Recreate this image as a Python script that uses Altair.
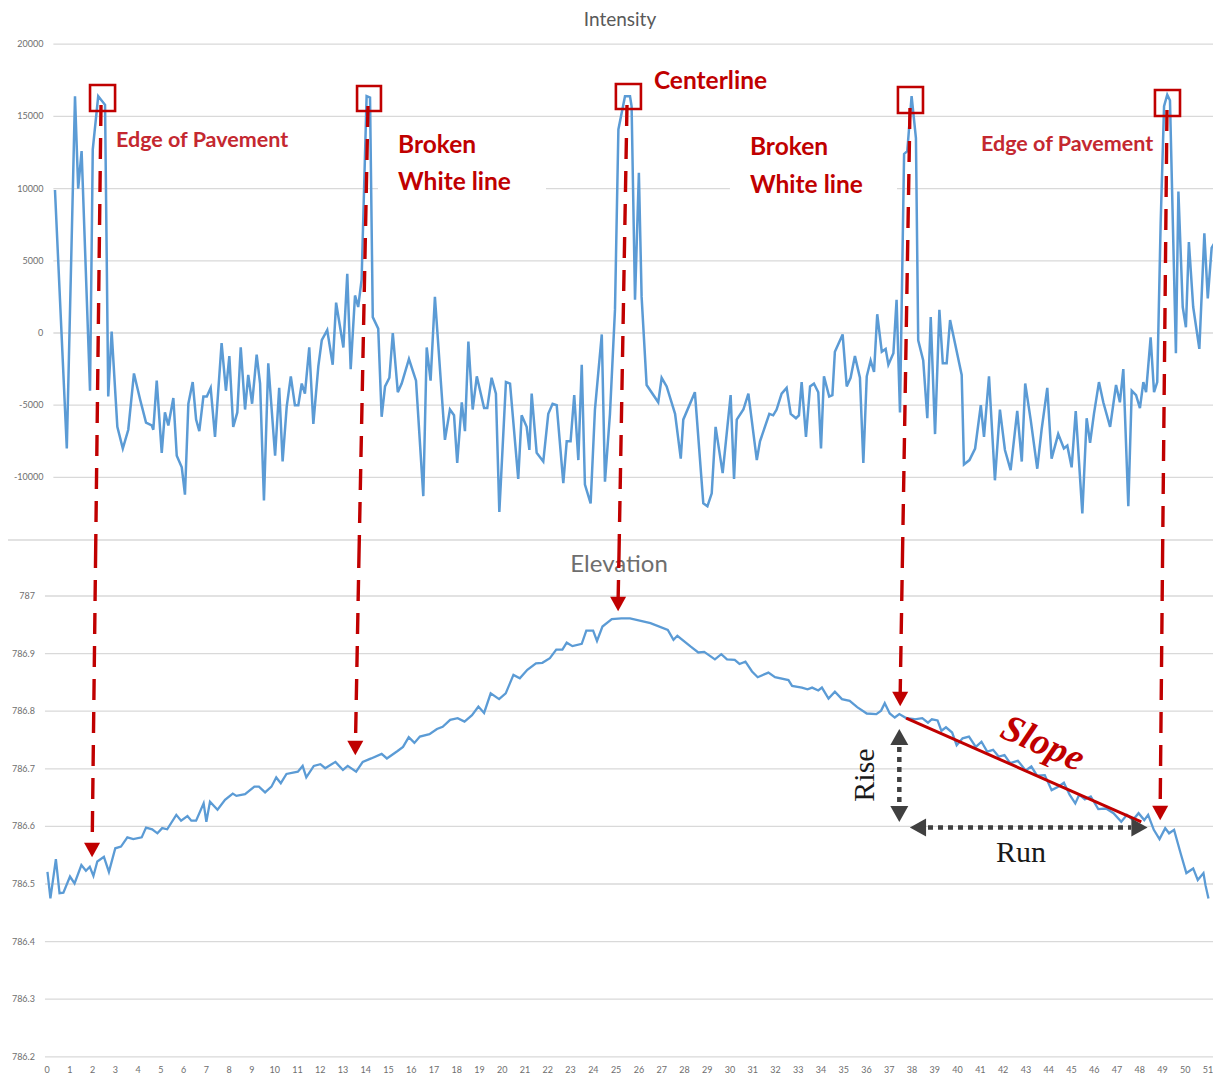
import altair as alt
import pandas as pd

# ---------------- data ----------------
INT_DIST = [
    0.35, 0.87, 1.23, 1.37, 1.52, 1.89, 2.01, 2.25, 2.55, 2.69,
    2.84, 3.09, 3.33, 3.57, 3.82, 4.09, 4.35, 4.60, 4.67, 4.82,
    5.04, 5.18, 5.33, 5.55, 5.70, 5.92, 6.06, 6.21, 6.40, 6.55,
    6.69, 6.87, 7.02, 7.19, 7.38, 7.67, 7.86, 8.01, 8.18, 8.36,
    8.51, 8.70, 8.84, 9.01, 9.21, 9.36, 9.53, 9.72, 10.02, 10.20,
    10.35, 10.53, 10.71, 10.89, 11.04, 11.19, 11.33, 11.52, 11.70, 11.92,
    12.07, 12.31, 12.55, 12.70, 13.02, 13.19, 13.34, 13.53, 13.67, 13.82,
    14.04, 14.19, 14.31, 14.55, 14.70, 14.85, 15.04, 15.19, 15.41, 15.58,
    15.90, 16.21, 16.53, 16.68, 16.85, 17.04, 17.48, 17.70, 17.88, 18.02,
    18.22, 18.36, 18.51, 18.70, 18.88, 19.20, 19.34, 19.53, 19.72, 19.87,
    20.16, 20.34, 20.70, 20.85, 21.07, 21.19, 21.29, 21.51, 21.80, 22.02,
    22.21, 22.39, 22.68, 22.83, 23.00, 23.16, 23.34, 23.49, 23.63, 23.88,
    24.07, 24.37, 24.51, 24.73, 24.95, 25.10, 25.39, 25.61, 25.68, 25.83,
    26.00, 26.12, 26.34, 26.85, 27.00, 27.22, 27.59, 27.84, 27.95, 28.46,
    28.83, 29.01, 29.20, 29.37, 29.68, 30.03, 30.18, 30.30, 30.59, 30.81,
    31.18, 31.32, 31.73, 31.90, 32.05, 32.27, 32.49, 32.67, 32.90, 33.03,
    33.15, 33.34, 33.52, 33.69, 33.88, 34.00, 34.13, 34.36, 34.50, 34.61,
    34.95, 35.13, 35.30, 35.49, 35.71, 35.86, 36.01, 36.18, 36.33, 36.47,
    36.67, 36.84, 36.96, 37.18, 37.32, 37.47, 37.65, 37.79, 37.98, 38.17,
    38.27, 38.49, 38.67, 38.82, 39.01, 39.20, 39.35, 39.52, 39.67, 40.18,
    40.28, 40.52, 40.77, 41.02, 41.16, 41.38, 41.64, 41.86, 42.08, 42.33,
    42.62, 42.82, 42.97, 43.21, 43.50, 43.69, 43.94, 44.13, 44.42, 44.67,
    44.82, 45.01, 45.19, 45.48, 45.67, 45.82, 45.99, 46.21, 46.40, 46.70,
    46.96, 47.13, 47.28, 47.50, 47.65, 47.84, 48.01, 48.16, 48.28, 48.48,
    48.63, 48.77, 48.92, 49.07, 49.21, 49.33, 49.48, 49.59, 49.70, 49.89,
    50.03, 50.16, 50.35, 50.62, 50.84, 50.99, 51.16, 51.35,
]
INT_VAL = [
    9900, -8000, 16400, 10000, 12600, -4000, 12700, 16400, 15800, -4400,
    100, -6500, -8000, -6700, -2800, -4600, -6200, -6400, -6700, -3300,
    -8300, -5500, -6400, -4500, -8500, -9300, -11200, -4900, -3400, -6000,
    -6800, -4400, -4400, -3800, -7200, -700, -4000, -1600, -6500, -5500,
    -1000, -5300, -2900, -4900, -1500, -3500, -11600, -2100, -8500, -3800,
    -8900, -5100, -3000, -5000, -5000, -3500, -4200, -1000, -6300, -2300,
    -500, 200, -2200, 2100, -1000, 4100, -2500, 2600, 1800, 3700,
    16400, 16300, 1100, 300, -5800, -3700, -3100, 0, -4100, -3500,
    -1800, -3300, -11300, -1000, -3300, 2500, -7400, -5300, -5700, -9000,
    -4800, -6800, -600, -5300, -3000, -5200, -5200, -3100, -4200, -12400,
    -3400, -3500, -10100, -5700, -6500, -8100, -4200, -8300, -8900, -5600,
    -4900, -5000, -10400, -7500, -7500, -4300, -8800, -2200, -10500, -11800,
    -5300, -100, -10300, -5600, 1600, 14100, 16400, 16400, 15700, 2300,
    11100, 2500, -3600, -4800, -3100, -3700, -5600, -8700, -6000, -4100,
    -11800, -12000, -11100, -6500, -9700, -4300, -10100, -6000, -5300, -4200,
    -8800, -7500, -5600, -5700, -5300, -4200, -3800, -5600, -5900, -5700,
    -3400, -7200, -3700, -3500, -4100, -8000, -3000, -4400, -4300, -1300,
    -100, -3700, -3100, -1600, -3100, -9000, -3000, -1900, -2700, 1300,
    -1300, -1100, -2200, -1400, 2300, -5500, 12400, 12600, 16400, 13500,
    -500, -1900, -5900, 1100, -7000, 1600, -2100, -2100, 900, -2900,
    -9100, -8800, -8000, -5000, -7200, -3000, -10200, -5300, -8100, -9500,
    -5400, -8900, -3500, -6000, -9400, -6700, -3800, -8700, -7000, -8000,
    -7800, -9300, -5400, -12500, -5900, -7600, -5600, -3400, -4800, -6500,
    -3600, -4800, -2500, -12000, -4000, -4300, -5200, -3400, -4100, -300,
    -4100, -3400, 7600, 15700, 16500, 16100, 6000, -1400, 9800, 1800,
    400, 6300, 1800, -1100, 6900, 2400, 5900, 6400,
]
ELEV_DIST = [
    0.02, 0.15, 0.39, 0.55, 0.72, 1.01, 1.21, 1.51, 1.71, 1.88,
    2.04, 2.21, 2.50, 2.72, 3.00, 3.25, 3.53, 3.79, 4.16, 4.35,
    4.62, 4.85, 5.06, 5.28, 5.68, 5.89, 6.17, 6.34, 6.55, 6.88,
    7.00, 7.16, 7.49, 7.82, 8.16, 8.32, 8.70, 9.11, 9.31, 9.58,
    9.86, 10.07, 10.27, 10.52, 11.02, 11.23, 11.39, 11.72, 12.01, 12.22,
    12.67, 13.00, 13.21, 13.58, 13.87, 14.24, 14.70, 14.93, 15.40, 15.64,
    15.89, 16.14, 16.38, 16.80, 17.13, 17.38, 17.71, 18.04, 18.34, 18.67,
    18.95, 19.20, 19.49, 19.86, 20.15, 20.49, 20.77, 21.10, 21.48, 21.76,
    22.09, 22.37, 22.64, 22.83, 23.08, 23.49, 23.69, 23.99, 24.16, 24.40,
    24.81, 25.23, 25.61, 26.51, 27.27, 27.52, 27.69, 28.28, 28.61, 28.87,
    29.34, 29.62, 29.87, 30.21, 30.42, 30.68, 30.97, 31.22, 31.69, 31.98,
    32.57, 32.73, 33.16, 33.41, 33.61, 33.88, 34.04, 34.33, 34.61, 34.92,
    35.26, 35.59, 36.01, 36.43, 36.64, 36.80, 37.02, 37.24, 37.44, 37.74,
    38.11, 38.45, 38.70, 38.87, 39.12, 39.29, 39.49, 39.76, 39.96, 40.22,
    40.50, 40.80, 41.05, 41.30, 41.56, 41.81, 42.06, 42.31, 42.65, 42.99,
    43.24, 43.49, 43.83, 44.13, 44.42, 44.67, 44.92, 45.17, 45.34, 45.59,
    45.85, 46.18, 46.52, 46.85, 47.19, 47.44, 47.70, 47.95, 48.20, 48.37,
    48.62, 48.87, 49.12, 49.29, 49.51, 49.80, 50.05, 50.35, 50.55, 50.80,
    50.89, 51.02,
]
ELEV_VAL = [
    786.521, 786.475, 786.543, 786.484, 786.485, 786.513, 786.501, 786.533, 786.523, 786.530,
    786.514, 786.539, 786.547, 786.521, 786.562, 786.565, 786.581, 786.578, 786.581, 786.598,
    786.595, 786.588, 786.597, 786.595, 786.620, 786.610, 786.618, 786.610, 786.610, 786.640,
    786.608, 786.643, 786.629, 786.646, 786.657, 786.653, 786.656, 786.669, 786.669, 786.659,
    786.669, 786.685, 786.675, 786.691, 786.695, 786.705, 786.685, 786.705, 786.708, 786.701,
    786.712, 786.698, 786.705, 786.695, 786.712, 786.718, 786.726, 786.718, 786.731, 786.738,
    786.755, 786.745, 786.756, 786.760, 786.769, 786.773, 786.785, 786.788, 786.782, 786.793,
    786.808, 786.797, 786.831, 786.821, 786.831, 786.863, 786.857, 786.872, 786.883, 786.884,
    786.892, 786.907, 786.907, 786.919, 786.913, 786.917, 786.940, 786.940, 786.922, 786.947,
    786.960, 786.961, 786.961, 786.953, 786.941, 786.924, 786.931, 786.912, 786.902, 786.903,
    786.890, 786.899, 786.890, 786.889, 786.882, 786.886, 786.869, 786.859, 786.867, 786.859,
    786.854, 786.844, 786.841, 786.838, 786.841, 786.836, 786.841, 786.822, 786.834, 786.821,
    786.818, 786.807, 786.796, 786.795, 786.801, 786.814, 786.796, 786.789, 786.795, 786.788,
    786.786, 786.788, 786.780, 786.786, 786.784, 786.766, 786.772, 786.763, 786.741, 786.753,
    786.756, 786.738, 786.747, 786.730, 786.733, 786.721, 786.724, 786.710, 786.714, 786.697,
    786.704, 786.688, 786.689, 786.663, 786.669, 786.676, 786.655, 786.640, 786.655, 786.647,
    786.652, 786.630, 786.631, 786.623, 786.608, 786.620, 786.611, 786.623, 786.611, 786.620,
    786.594, 786.578, 786.597, 786.588, 786.594, 786.553, 786.519, 786.527, 786.507, 786.519,
    786.498, 786.475,
]

INT_TICKS = [20000, 15000, 10000, 5000, 0, -5000, -10000]
ELEV_TICKS = [787.0, 786.9, 786.8, 786.7, 786.6, 786.5, 786.4, 786.3, 786.2]
ELEV_TICK_LABELS = ["787", "786.9", "786.8", "786.7", "786.6", "786.5", "786.4", "786.3", "786.2"]
X_TICKS = list(range(0, 52))

# annotation anchors (distance / intensity / elevation units)
BOX_D1 = [1.89, 13.62, 24.99, 37.38, 48.67]
BOX_D2 = [2.99, 14.67, 26.09, 38.48, 49.77]
BOX_V1 = [15374, 15374, 15512, 15235, 15027]
BOX_V2 = [17174, 17105, 17243, 17036, 16828]

ARROW_TOP_D = [2.372, 14.100, 25.478, 37.909, 49.198]
ARROW_TOP_V = [15789, 15720, 15789, 15581, 15443]
ARROW_SEAM_D = [2.135, 13.705, 25.126, 37.580, 49.005]
SEAM_V = -15374
SEAM_E = 787.0712
ARROW_END_D = [1.985, 13.552, 25.090, 37.480, 48.900]
ARROW_END_E = [786.5712, 786.7483, 786.998, 786.8333, 786.6354]
ARROW_HEAD_D = [1.980, 13.543, 25.087, 37.479, 48.900]
ARROW_HEAD_E = [786.559, 786.7361, 786.9861, 786.8212, 786.6233]

EDGE_TEXT = ["Edge of Pavement", "Edge of Pavement"]
EDGE_D = [3.03, 41.03]
EDGE_V = [13296, 13019]
MARK_TEXT = ["Broken", "White line", "Centerline", "Broken", "White line"]
MARK_D = [15.42, 15.42, 26.66, 30.88, 30.88]
MARK_V = [12950, 10388, 17382, 12811, 10180]

MASK_D1 = [14.54, 30.00]
MASK_D2 = [21.92, 37.34]
MASK_V1 = [9210, 9210]
MASK_V2 = [14196, 14196]

SLOPE_D = [37.74, 48.07]
SLOPE_E = [786.788, 786.608]
RISE_D = 37.44
RISE_E = [786.7378, 786.6372]
RISE_HEAD_E = [786.7552, 786.6215]
RUN_E = 786.598
RUN_D = [38.70, 47.62]
RUN_HEAD_D = [38.26, 47.99]

# ---------------- scales ----------------
W, H = 1205, 1067
RED = "#c00000"
BLUE = "#5b9bd5"
GRID = "#d9d9d9"
LBL = "#6e6e6e"
XS = alt.Scale(domain=[0, 51], range=[39, 1200], zero=False, nice=False)
YI = alt.Scale(domain=[-15000, 20000], range=[541.6, 36.2], zero=False, nice=False)
YE = alt.Scale(domain=[786.2, 787.0], range=[1048.8, 588], zero=False, nice=False)


def X(f="d"):
    return alt.X(f"{f}:Q", scale=XS, axis=None)


def YIn(f="v"):
    return alt.Y(f"{f}:Q", scale=YI, axis=None)


def YEl(f="e"):
    return alt.Y(f"{f}:Q", scale=YE, axis=None)


layers = []

# gridlines
gi = pd.DataFrame({"v": INT_TICKS, "d1": 0.28, "d2": 51.31})
layers.append(alt.Chart(gi).mark_rule(color=GRID, strokeWidth=1.3).encode(
    x=X("d1"), x2="d2", y=YIn()))
ge = pd.DataFrame({"e": ELEV_TICKS, "d1": -0.09, "d2": 51.31})
layers.append(alt.Chart(ge).mark_rule(color=GRID, strokeWidth=1.3).encode(
    x=X("d1"), x2="d2", y=YEl()))
# separator between the two charts
sep = pd.DataFrame({"v": [-14335], "d1": [-1.713], "d2": [51.22]})
layers.append(alt.Chart(sep).mark_rule(color=GRID, strokeWidth=1.5).encode(
    x=X("d1"), x2="d2", y=YIn()))
# white text-box masks
mk = pd.DataFrame({"d1": MASK_D1, "d2": MASK_D2, "v1": MASK_V1, "v2": MASK_V2})
layers.append(alt.Chart(mk).mark_rect(color="white").encode(
    x=X("d1"), x2="d2", y=YIn("v1"), y2="v2"))

# series
dfi = pd.DataFrame({"d": INT_DIST, "v": INT_VAL})
layers.append(alt.Chart(dfi).mark_line(color=BLUE, strokeWidth=2.5).encode(
    x=X(), y=YIn(), order="d:Q"))
dfe = pd.DataFrame({"d": ELEV_DIST, "e": ELEV_VAL})
layers.append(alt.Chart(dfe).mark_line(color=BLUE, strokeWidth=2.3).encode(
    x=X(), y=YEl(), order="d:Q"))

# titles
layers.append(alt.Chart(pd.DataFrame({"d": [25.17], "v": [22299], "t": ["Intensity"]}))
              .mark_text(font="Lato", fontSize=19, color="#595959", baseline="top")
              .encode(x=X(), y=YIn(), text="t:N"))
layers.append(alt.Chart(pd.DataFrame({"d": [25.13], "e": [787.0538], "t": ["Elevation"]}))
              .mark_text(font="Lato", fontSize=24, color="#6e6e6e", baseline="middle")
              .encode(x=X(), y=YEl(), text="t:N"))

# tick labels
ti = pd.DataFrame({"v": INT_TICKS, "t": [str(t) for t in INT_TICKS], "d": -0.16})
layers.append(alt.Chart(ti).mark_text(font="Lato", fontSize=9, color=LBL,
                                      align="right", baseline="middle")
              .encode(x=X(), y=YIn(), text="t:N"))
te = pd.DataFrame({"e": ELEV_TICKS, "t": ELEV_TICK_LABELS, "d": -0.53})
layers.append(alt.Chart(te).mark_text(font="Lato", fontSize=9, color=LBL,
                                      align="right", baseline="middle")
              .encode(x=X(), y=YEl(), text="t:N"))
tx = pd.DataFrame({"d": X_TICKS, "t": [str(t) for t in X_TICKS], "e": 786.1771})
layers.append(alt.Chart(tx).mark_text(font="Lato", fontSize=9, color=LBL,
                                      align="center", baseline="middle")
              .encode(x=X(), y=YEl(), text="t:N"))

# red boxes
bx = pd.DataFrame({"d1": BOX_D1, "d2": BOX_D2, "v1": BOX_V1, "v2": BOX_V2})
layers.append(alt.Chart(bx).mark_rect(fillOpacity=0, stroke=RED, strokeWidth=2.6).encode(
    x=X("d1"), x2="d2", y=YIn("v1"), y2="v2"))

# dashed red arrows (upper part in intensity units, lower part in elevation units)
up = pd.DataFrame({"d1": ARROW_TOP_D, "v1": ARROW_TOP_V, "d2": ARROW_SEAM_D, "v2": SEAM_V})
layers.append(alt.Chart(up).mark_rule(color=RED, strokeWidth=3.4, strokeDash=[21, 12]).encode(
    x=X("d1"), x2="d2", y=YIn("v1"), y2="v2"))
lo = pd.DataFrame({"d1": ARROW_SEAM_D, "e1": SEAM_E, "d2": ARROW_END_D, "e2": ARROW_END_E})
layers.append(alt.Chart(lo).mark_rule(color=RED, strokeWidth=3.4, strokeDash=[21, 12],
                                      strokeDashOffset=8).encode(
    x=X("d1"), x2="d2", y=YEl("e1"), y2="e2"))
hd = pd.DataFrame({"d": ARROW_HEAD_D, "e": ARROW_HEAD_E})
layers.append(alt.Chart(hd).mark_point(shape="M-1,-0.9L1,-0.9L0,0.9Z", size=256, filled=True,
                                       color=RED, opacity=1).encode(x=X(), y=YEl()))

# annotation labels
ed = pd.DataFrame({"d": EDGE_D, "v": EDGE_V, "t": EDGE_TEXT})
layers.append(alt.Chart(ed).mark_text(font="Lato", fontWeight="bold", fontSize=21.5, color="#c42830",
                                      align="left", baseline="middle")
              .encode(x=X(), y=YIn(), text="t:N"))
ml = pd.DataFrame({"d": MARK_D, "v": MARK_V, "t": MARK_TEXT})
layers.append(alt.Chart(ml).mark_text(font="Lato", fontWeight="bold", fontSize=24.5, color=RED,
                                      align="left", baseline="middle")
              .encode(x=X(), y=YIn(), text="t:N"))

# slope line
sl = pd.DataFrame({"d1": [SLOPE_D[0]], "e1": [SLOPE_E[0]], "d2": [SLOPE_D[1]], "e2": [SLOPE_E[1]]})
layers.append(alt.Chart(sl).mark_rule(color=RED, strokeWidth=3).encode(
    x=X("d1"), x2="d2", y=YEl("e1"), y2="e2"))

# rise / run dotted arrows
DARK = "#404040"
rs = pd.DataFrame({"d": [RISE_D], "e1": [RISE_E[0]], "e2": [RISE_E[1]]})
layers.append(alt.Chart(rs).mark_rule(color=DARK, strokeWidth=4.5, strokeDash=[5, 5]).encode(
    x=X(), y=YEl("e1"), y2="e2"))
rn = pd.DataFrame({"d1": [RUN_D[0]], "d2": [RUN_D[1]], "e": [RUN_E]})
layers.append(alt.Chart(rn).mark_rule(color=DARK, strokeWidth=4.5, strokeDash=[5, 5]).encode(
    x=X("d1"), x2="d2", y=YEl()))
layers.append(alt.Chart(pd.DataFrame({"d": [RISE_D], "e": [RISE_HEAD_E[0]]}))
              .mark_point(shape="M-1,0.9L1,0.9L0,-0.9Z", size=324, filled=True, color=DARK, opacity=1)
              .encode(x=X(), y=YEl()))
layers.append(alt.Chart(pd.DataFrame({"d": [RISE_D], "e": [RISE_HEAD_E[1]]}))
              .mark_point(shape="M-1,-0.9L1,-0.9L0,0.9Z", size=324, filled=True, color=DARK, opacity=1)
              .encode(x=X(), y=YEl()))
layers.append(alt.Chart(pd.DataFrame({"d": [RUN_HEAD_D[0]], "e": [RUN_E]}))
              .mark_point(shape="M0.9,-1L0.9,1L-0.9,0Z", size=324, filled=True, color=DARK, opacity=1)
              .encode(x=X(), y=YEl()))
layers.append(alt.Chart(pd.DataFrame({"d": [RUN_HEAD_D[1]], "e": [RUN_E]}))
              .mark_point(shape="M-0.9,-1L-0.9,1L0.9,0Z", size=324, filled=True, color=DARK, opacity=1)
              .encode(x=X(), y=YEl()))

# rise / run / slope text
layers.append(alt.Chart(pd.DataFrame({"d": [35.93], "e": [786.6892], "t": ["Rise"]}))
              .mark_text(font="Liberation Serif", fontSize=30, color="#1a1a1a", angle=270,
                         align="center", baseline="middle")
              .encode(x=X(), y=YEl(), text="t:N"))
layers.append(alt.Chart(pd.DataFrame({"d": [42.79], "e": [786.5538], "t": ["Run"]}))
              .mark_text(font="Liberation Serif", fontSize=30, color="#1a1a1a",
                         align="center", baseline="middle")
              .encode(x=X(), y=YEl(), text="t:N"))
layers.append(alt.Chart(pd.DataFrame({"d": [43.73], "e": [786.743], "t": ["Slope"]}))
              .mark_text(font="Liberation Serif", fontSize=38, fontWeight="bold", fontStyle="italic",
                         color=RED, angle=24, align="center", baseline="middle")
              .encode(x=X(), y=YEl(), text="t:N"))

chart = (
    alt.layer(*layers)
    .resolve_scale(y="independent")
    .properties(width=W, height=H, autosize=alt.AutoSizeParams(type="none"), padding=0,
                background="white")
    .configure_view(strokeWidth=0, stroke="transparent")
)

chart.save("out.html", embed_options={"renderer": "svg", "actions": False})
